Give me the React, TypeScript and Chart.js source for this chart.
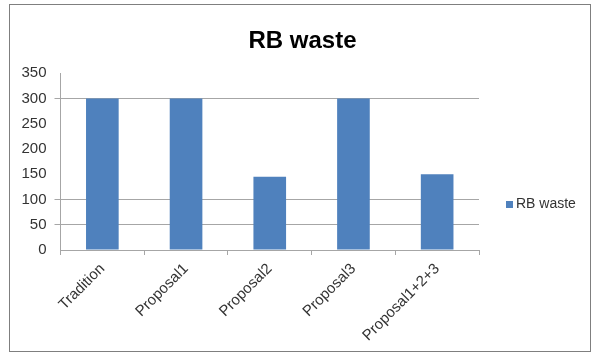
import React, { useEffect, useRef } from "react";
import { Chart, registerables } from "chart.js";

Chart.register(...registerables);

const categories = ["Tradition", "Proposal1", "Proposal2", "Proposal3", "Proposal1+2+3"];
const seriesLabel = "RB waste";
const seriesValues = [300, 300, 145, 300, 150];
const yTicks = [0, 50, 100, 150, 200, 250, 300, 350];
const visibleGridValues = [50, 100, 300];

const FONT = "'Liberation Sans', Arial, sans-serif";
const BAR_COLOR = "#4F81BD";
const GRID_COLOR = "#a6a6a6";
const LEGEND_WIDTH = 114;

// Title spans the whole chart frame width (not only the plot + axis area).
const fullWidthTitle = {
  id: "fullWidthTitle",
  afterLayout(chart: any) {
    const t = chart.titleBlock;
    if (t) {
      t.left = 12;
      t.right = chart.width;
      t.width = chart.width - 12;
    }
  },
};

// Legend (swatch + dataset label) drawn to the right of the plot.
const customLegend = {
  id: "customLegend",
  afterDraw(chart: any) {
    const ctx = chart.ctx;
    const ds = chart.data.datasets[0];
    const area = chart.chartArea;
    const cy = 204.5;
    const x = area.right + 27;
    ctx.save();
    ctx.fillStyle = ds.backgroundColor;
    ctx.fillRect(x, cy - 3.5, 7, 7);
    ctx.fillStyle = "#333333";
    ctx.font = `14px ${FONT}`;
    ctx.textBaseline = "middle";
    ctx.textAlign = "left";
    ctx.fillText(ds.label, x + 10, cy);
    ctx.restore();
  },
};

export default function App() {
  const ref = useRef<HTMLCanvasElement | null>(null);

  useEffect(() => {
    if (!ref.current) return;
    const chart = new Chart(ref.current, {
      type: "bar",
      data: {
        labels: categories,
        datasets: [
          {
            label: seriesLabel,
            data: seriesValues,
            backgroundColor: BAR_COLOR,
            borderWidth: 0,
            categoryPercentage: 1,
            barPercentage: 0.39,
          },
        ],
      },
      options: {
        responsive: false,
        animation: false,
        maintainAspectRatio: false,
        layout: { padding: { left: 0, right: LEGEND_WIDTH, top: 0, bottom: 0 } },
        plugins: {
          legend: { display: false },
          tooltip: { enabled: false },
          title: {
            display: true,
            text: "RB waste",
            color: "#000000",
            font: { family: FONT, size: 24, weight: "bold" },
            padding: { top: 26.5, bottom: 18 },
          },
        },
        scales: {
          x: {
            offset: true,
            grid: {
              offset: true,
              drawOnChartArea: false,
              drawTicks: true,
              tickLength: 5,
              color: GRID_COLOR,
            },
            border: { display: true, color: GRID_COLOR, width: 1 },
            ticks: {
              autoSkip: false,
              minRotation: 45,
              maxRotation: 45,
              padding: 5,
              color: "#333333",
              font: { family: FONT, size: 15 },
            },
            afterFit(scale: any) {
              scale.height = 104;
            },
          },
          y: {
            min: 0,
            max: 350,
            afterBuildTicks(scale: any) {
              scale.ticks = yTicks.map((v) => ({ value: v }));
            },
            grid: {
              drawTicks: true,
              tickLength: 6,
              color: (c: any) =>
                c.tick && visibleGridValues.includes(c.tick.value) ? GRID_COLOR : "rgba(0,0,0,0)",
            },
            border: { display: true, color: GRID_COLOR, width: 1 },
            ticks: {
              padding: 8,
              color: "#333333",
              font: { family: FONT, size: 15 },
            },
            afterFit(scale: any) {
              scale.width = 60.5;
            },
          },
        },
      },
      plugins: [fullWidthTitle, customLegend],
    });
    return () => chart.destroy();
  }, []);

  return (
    <div style={{ position: "absolute", left: 0, top: 0, width: 593, height: 354, background: "#fff" }}>
      <div
        style={{
          position: "absolute",
          left: 9,
          top: 4,
          width: 580,
          height: 346,
          border: "1px solid #7f7f7f",
        }}
      />
      <canvas ref={ref} width={593} height={354} style={{ position: "absolute", left: 0, top: 0 }} />
    </div>
  );
}
